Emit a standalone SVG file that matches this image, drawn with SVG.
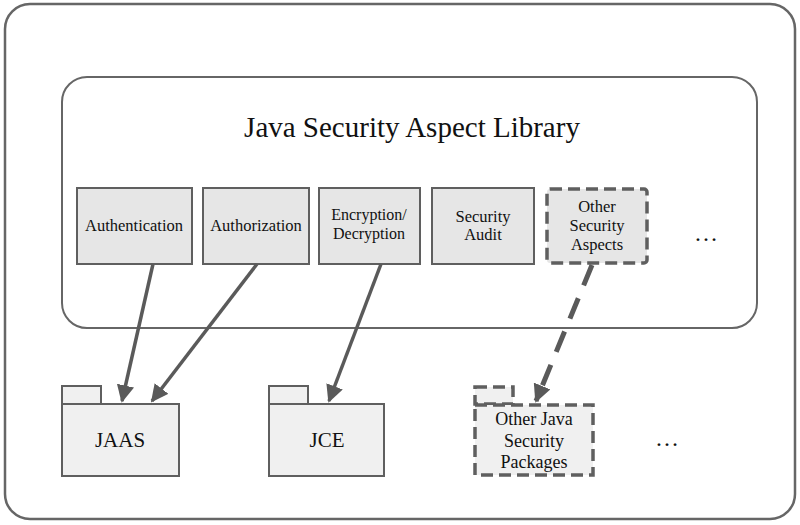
<svg xmlns="http://www.w3.org/2000/svg" width="800" height="525" viewBox="0 0 800 525">
<defs>
<style>
.frame{fill:#fff;stroke:#666;stroke-width:2.5}
.lib{fill:#fff;stroke:#666;stroke-width:2}
.box{fill:#e6e6e6;stroke:#5f5f5f;stroke-width:2}
.dbox{fill:#e6e6e6;stroke:#5f5f5f;stroke-width:3.5;stroke-dasharray:12 6}
.fold{fill:#f0f0f0;stroke:#5f5f5f;stroke-width:2}
.dfold{fill:#f0f0f0;stroke:#5f5f5f;stroke-width:3.5;stroke-dasharray:12 6}
.t{font-family:"Liberation Serif","Times New Roman",serif;fill:#111;text-anchor:middle}
.s{font-size:16.5px}
.e{font-size:16px}
.f{font-size:21px}
.p{font-size:18px}
.con{stroke:#5a5a5a;stroke-width:3.5;fill:none}
.dcon{stroke:#5a5a5a;stroke-width:5;fill:none;stroke-dasharray:22 14}
</style>
<marker id="ah" viewBox="0 0 10 10" refX="9" refY="5" markerWidth="5" markerHeight="5" orient="auto" markerUnits="strokeWidth">
<path d="M0,0 L10,5 L0,10 z" fill="#5a5a5a"/>
</marker>
<marker id="ah2" viewBox="0 0 10 10" refX="9" refY="5" markerWidth="3.6" markerHeight="3.6" orient="auto" markerUnits="strokeWidth">
<path d="M0,0 L10,5 L0,10 z" fill="#5a5a5a"/>
</marker>
</defs>
<rect class="frame" x="5" y="4" width="790" height="515" rx="25"/>
<g id="library">
<rect class="lib" x="62" y="77" width="695" height="251" rx="25"/>
<text class="t" x="412" y="137" font-size="29">Java Security Aspect Library</text>
</g>
<g id="authentication">
<rect class="box" x="77" y="188" width="115" height="76"/>
<text class="t s" x="134" y="231">Authentication</text>
</g>
<g id="authorization">
<rect class="box" x="203" y="188" width="106" height="76"/>
<text class="t s" x="256" y="231">Authorization</text>
</g>
<g id="encryption">
<rect class="box" x="319" y="188" width="101" height="76"/>
<text class="t e" x="369" y="220">Encryption/</text>
<text class="t e" x="369" y="239">Decryption</text>
</g>
<g id="audit">
<rect class="box" x="432" y="188" width="102" height="76"/>
<text class="t s" x="483" y="222">Security</text>
<text class="t s" x="483" y="240">Audit</text>
</g>
<g id="other-aspects">
<rect class="dbox" x="547" y="189" width="100" height="74" rx="3"/>
<text class="t s" x="597" y="212">Other</text>
<text class="t s" x="597" y="231">Security</text>
<text class="t s" x="597" y="250">Aspects</text>
</g>
<text class="t" x="706" y="241" font-size="24">…</text>
<g id="jaas">
<rect class="fold" x="62" y="386" width="39" height="18"/>
<rect class="fold" x="62" y="404" width="117" height="72"/>
<text class="t f" x="120" y="447">JAAS</text>
</g>
<g id="jce">
<rect class="fold" x="269" y="386" width="39" height="18"/>
<rect class="fold" x="269" y="404" width="115" height="72"/>
<text class="t f" x="327" y="447">JCE</text>
</g>
<g id="other-packages">
<rect class="dfold" x="475" y="387" width="38" height="17"/>
<rect class="dfold" x="475" y="405" width="118" height="70"/>
<text class="t p" x="534" y="425">Other Java</text>
<text class="t p" x="534" y="447">Security</text>
<text class="t p" x="534" y="468">Packages</text>
</g>
<text class="t" x="667" y="446" font-size="24">…</text>
<g id="connectors">
<line class="con" x1="153" y1="264" x2="122" y2="401" marker-end="url(#ah)"/>
<line class="con" x1="257" y1="264" x2="152" y2="401" marker-end="url(#ah)"/>
<line class="con" x1="381" y1="264" x2="329" y2="401" marker-end="url(#ah)"/>
<line class="dcon" x1="592" y1="265" x2="536" y2="401" marker-end="url(#ah2)"/>
</g>
</svg>
